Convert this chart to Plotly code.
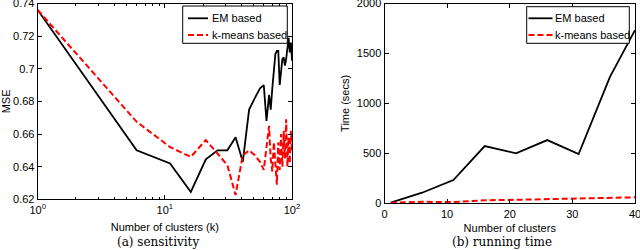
import plotly.graph_objects as go

# ---- data: (a) sensitivity ----
k_clusters = [1, 6, 11, 16, 21, 26, 31, 36, 41, 46, 51, 56, 60, 63, 66, 68, 70, 72,
              74, 76, 78, 80, 82, 84, 86, 88, 90, 92, 94, 96, 98, 100]
mse_em = [0.736, 0.650, 0.642, 0.6245, 0.6445, 0.650, 0.650, 0.658, 0.643, 0.675,
          0.682, 0.688, 0.690, 0.668, 0.684, 0.675, 0.688, 0.700, 0.709, 0.711,
          0.711, 0.690, 0.697, 0.706, 0.707, 0.702, 0.706, 0.713, 0.719, 0.710,
          0.716, 0.705]
mse_km = [0.736, 0.6675, 0.652, 0.646, 0.6563, 0.648, 0.641, 0.6226, 0.647, 0.650,
          0.647, 0.643, 0.638, 0.652, 0.665, 0.645, 0.637, 0.655, 0.640, 0.629,
          0.655, 0.638, 0.660, 0.640, 0.662, 0.645, 0.669, 0.640, 0.658, 0.642,
          0.662, 0.648]

# ---- data: (b) running time ----
n_clusters = [1, 6, 11, 16, 21, 26, 31, 36, 40]
time_em = [6, 106, 233, 573, 500, 633, 493, 1266, 1733]
time_km = [5, 15, 12, 30, 35, 40, 48, 52, 60]

series_names = ["EM based", "k-means based"]
x_log_ticks = [1, 10, 100]
x_log_text = ["10<sup>0</sup>", "10<sup>1</sup>", "10<sup>2</sup>"]
x_log_minor = [2, 3, 4, 5, 6, 7, 8, 9, 20, 30, 40, 50, 60, 70, 80, 90]
y_mse_ticks = [0.62, 0.64, 0.66, 0.68, 0.70, 0.72, 0.74]
y_mse_text = ["0.62", "0.64", "0.66", "0.68", "0.7", "0.72", "0.74"]
x_lin_ticks = [0, 10, 20, 30, 40]
y_time_ticks = [0, 500, 1000, 1500, 2000]

W, H = 640, 250
FONT = "Liberation Sans, Arial, sans-serif"
SERIF = "DejaVu Serif, Liberation Serif, serif"
em_line = dict(color="black", width=1.8)
km_line = dict(color="#ff0000", width=2, dash="6px,3px")
styles = [em_line, km_line]

fig = go.Figure()
fig.add_trace(go.Scatter(x=k_clusters, y=mse_em, mode="lines", name=series_names[0],
                         line=em_line, xaxis="x", yaxis="y"))
fig.add_trace(go.Scatter(x=k_clusters, y=mse_km, mode="lines", name=series_names[1],
                         line=km_line, xaxis="x", yaxis="y"))
fig.add_trace(go.Scatter(x=n_clusters, y=time_em, mode="lines", name=series_names[0],
                         line=em_line, xaxis="x2", yaxis="y2"))
fig.add_trace(go.Scatter(x=n_clusters, y=time_km, mode="lines", name=series_names[1],
                         line=km_line, xaxis="x2", yaxis="y2"))

ax_common = dict(showline=True, linecolor="black", linewidth=1, mirror="ticks",
                 ticks="inside", ticklen=4, tickcolor="black", showgrid=False,
                 zeroline=False, automargin=False, ticklabeloverflow="allow",
                 tickfont=dict(family=FONT, size=11, color="black"))


def px(x):
    return x / W


def py(y):
    return 1 - y / H


shapes = []
annotations = [
    dict(text="(a) sensitivity", x=px(158), y=py(242), xref="paper",
         yref="paper", showarrow=False, xanchor="center", yanchor="middle",
         font=dict(family=SERIF, size=12, color="black")),
    dict(text="(b) running time", x=px(502), y=py(242), xref="paper",
         yref="paper", showarrow=False, xanchor="center", yanchor="middle",
         font=dict(family=SERIF, size=12, color="black")),
]

# hand-placed legend boxes (legend chrome only)
legend_boxes = [
    dict(box=(182.7, 6, 287.3, 43.3), line=(188, 208), text_x=210),
    dict(box=(526.7, 6.7, 629.3, 43.3), line=(528.5, 552.5), text_x=553),
]
row_y = [18.3, 35]
for lb in legend_boxes:
    x0, y0, x1, y1 = lb["box"]
    shapes.append(dict(type="rect", xref="paper", yref="paper",
                       x0=px(x0), x1=px(x1), y0=py(y1), y1=py(y0),
                       line=dict(color="black", width=1), fillcolor="white",
                       layer="above"))
    for name, st, ry in zip(series_names, styles, row_y):
        shapes.append(dict(type="line", xref="paper", yref="paper",
                           x0=px(lb["line"][0]), x1=px(lb["line"][1]),
                           y0=py(ry), y1=py(ry), line=st, layer="above"))
        annotations.append(dict(text=name, x=px(lb["text_x"]), y=py(ry),
                                xref="paper", yref="paper", showarrow=False,
                                xanchor="left", yanchor="middle",
                                font=dict(family=FONT, size=11, color="black")))

fig.update_layout(
    width=W, height=H, margin=dict(l=0, r=0, t=0, b=0),
    paper_bgcolor="white", plot_bgcolor="white", showlegend=False,
    font=dict(family=FONT, size=11, color="black"),
    xaxis=dict(domain=[px(37.7), px(292)], type="log", range=[0, 2],
               tickvals=x_log_ticks, ticktext=x_log_text,
               minor=dict(tickvals=x_log_minor, ticks="inside", ticklen=2,
                          tickcolor="black"),
               title=dict(text="Number of clusters (k)", standoff=8,
                          font=dict(family=FONT, size=11)),
               anchor="y", **ax_common),
    yaxis=dict(domain=[py(199.3), py(3.5)], range=[0.62, 0.74],
               tickvals=y_mse_ticks, ticktext=y_mse_text,
               title=dict(text="MSE", standoff=4, font=dict(family=FONT, size=11)),
               anchor="x", **ax_common),
    xaxis2=dict(domain=[px(384.5), px(635)], range=[0, 40], tickvals=x_lin_ticks,
                title=dict(text="Number of clusters", standoff=5,
                           font=dict(family=FONT, size=11)),
                anchor="y2", **ax_common),
    yaxis2=dict(domain=[py(203.3), py(3.5)], range=[0, 2000],
                tickvals=y_time_ticks,
                title=dict(text="Time (secs)", standoff=4, font=dict(family=FONT, size=11)),
                anchor="x2", **ax_common),
    shapes=shapes,
    annotations=annotations,
)

fig.write_html("out.html", config={"displayModeBar": False},
               post_script="document.body.style.margin='0';"
                           "document.body.style.padding='0';"
                           "document.body.style.overflow='hidden';")
